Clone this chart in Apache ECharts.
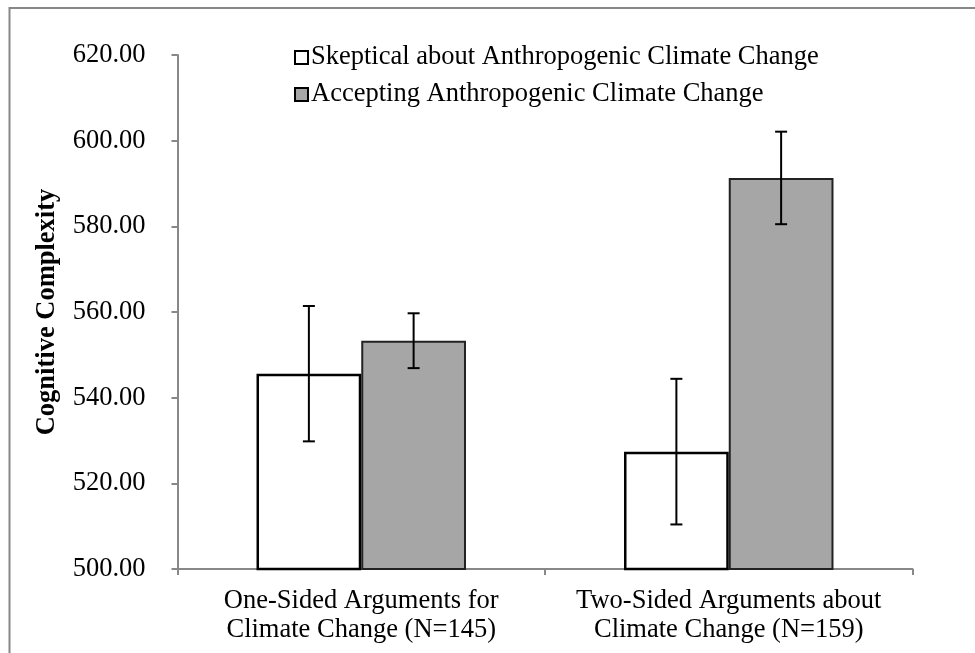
<!DOCTYPE html>
<html>
<head>
<meta charset="utf-8">
<script src="https://cdn.jsdelivr.net/npm/echarts@6/dist/echarts.min.js"></script>
<style>
html,body{margin:0;padding:0;background:#fff;}
#chart{width:975px;height:653px;}
</style>
</head>
<body>
<div id="chart"></div>
<script>
const categories = ['One-Sided Arguments for\nClimate Change (N=145)', 'Two-Sided Arguments about\nClimate Change (N=159)'];
const seriesNames = ['Skeptical about Anthropogenic Climate Change', 'Accepting Anthropogenic Climate Change'];
const skepticalValues = [545.6, 527.4];
const skepticalErrors = [15.8, 17.0];
const acceptingValues = [553.3, 591.3];
const acceptingErrors = [6.4, 10.8];
const yTicks = { min: 500, max: 620, interval: 20 };

const FONT = 'Liberation Serif';
const FS = 26.5;
const GAP = 0.43;

function errorSeries(values, errors, side) {
  return {
    type: 'custom',
    z: 10,
    silent: true,
    data: values.map((v, i) => [i, v - errors[i], v + errors[i]]),
    renderItem: function (params, api) {
      const idx = api.value(0);
      const band = api.size([1, 0])[0];
      const bw = band * (1 - GAP) / 2;
      const lo = api.coord([idx, api.value(1)]);
      const hi = api.coord([idx, api.value(2)]);
      const x = lo[0] + side * bw / 2;
      const cap = 6;
      const style = { stroke: '#000', lineWidth: 2 };
      return {
        type: 'group',
        children: [
          { type: 'line', shape: { x1: x, y1: hi[1], x2: x, y2: lo[1] }, style },
          { type: 'line', shape: { x1: x - cap, y1: hi[1], x2: x + cap, y2: hi[1] }, style },
          { type: 'line', shape: { x1: x - cap, y1: lo[1], x2: x + cap, y2: lo[1] }, style }
        ]
      };
    }
  };
}

const chart = echarts.init(document.getElementById('chart'), null, { renderer: 'canvas' });
chart.setOption({
  animation: false,
  backgroundColor: '#fff',
  textStyle: { fontFamily: FONT },
  graphic: [{
    type: 'rect', shape: { x: 9.5, y: 8, width: 1000, height: 700 },
    style: { fill: 'none', stroke: '#878787', lineWidth: 2 }, silent: true, z: -10
  }],
  grid: { left: 177.5, right: 62.5, top: 55, bottom: 84 },
  legend: {
    orient: 'vertical', left: 289, top: 39,
    itemWidth: 13, itemHeight: 13, itemGap: 10,
    textStyle: { fontFamily: FONT, fontSize: FS, lineHeight: 26, color: '#000', padding: [0, 0, 0, -2] },
    data: [
      { name: seriesNames[0], icon: 'rect', itemStyle: { color: '#fff', borderColor: '#000', borderWidth: 2 } },
      { name: seriesNames[1], icon: 'rect', itemStyle: { color: '#a6a6a6', borderColor: '#000', borderWidth: 2 } }
    ]
  },
  xAxis: {
    type: 'category', data: categories,
    axisLine: { lineStyle: { color: '#888', width: 2 } },
    axisTick: { show: true, length: 6, lineStyle: { color: '#888', width: 2 } },
    axisLabel: { interval: 0, hideOverlap: false, fontFamily: FONT, fontSize: FS, color: '#000', lineHeight: 29, margin: 18 }
  },
  yAxis: {
    type: 'value', min: yTicks.min, max: yTicks.max, interval: yTicks.interval,
    name: 'Cognitive Complexity', nameLocation: 'middle', nameRotate: 90, nameGap: 117,
    nameTextStyle: { fontFamily: FONT, fontSize: FS, fontWeight: 'bold', color: '#000' },
    axisLine: { show: true, lineStyle: { color: '#888', width: 2 } },
    axisTick: { show: true, length: 6, lineStyle: { color: '#888', width: 2 } },
    axisLabel: { fontFamily: FONT, fontSize: FS, color: '#000', margin: 32, formatter: v => v.toFixed(2) },
    splitLine: { show: false }
  },
  series: [
    { name: seriesNames[0], type: 'bar', data: skepticalValues, barGap: '0%', barCategoryGap: (GAP * 100) + '%',
      itemStyle: { color: '#fff', borderColor: '#000', borderWidth: 2.5 } },
    { name: seriesNames[1], type: 'bar', data: acceptingValues, barGap: '0%', barCategoryGap: (GAP * 100) + '%',
      itemStyle: { color: '#a6a6a6', borderColor: '#222', borderWidth: 2 } },
    errorSeries(skepticalValues, skepticalErrors, -1),
    errorSeries(acceptingValues, acceptingErrors, 1)
  ]
});
</script>
</body>
</html>
